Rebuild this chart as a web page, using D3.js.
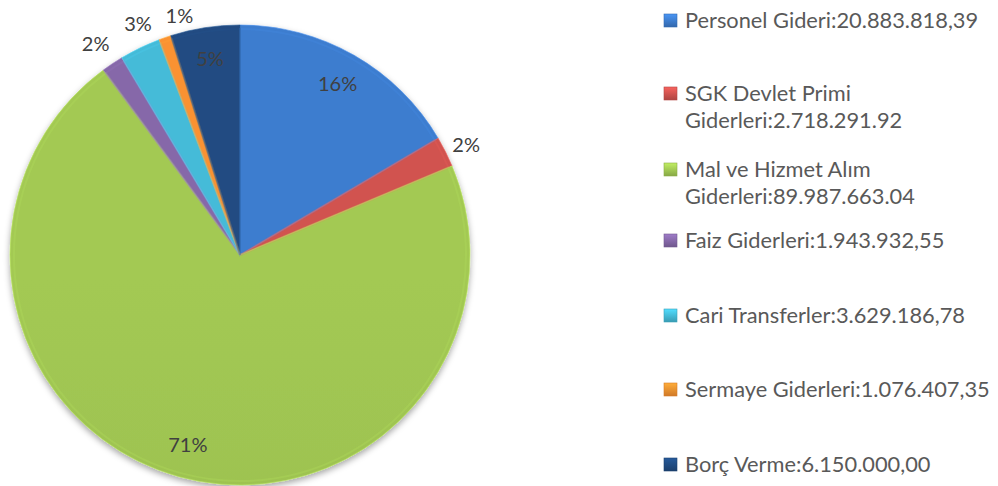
<!DOCTYPE html>
<html><head><meta charset="utf-8">
<script src="https://cdn.jsdelivr.net/npm/d3@7"></script>
<style>
html,body{margin:0;padding:0;background:#fff;}
svg{display:block;}
</style></head>
<body>
<svg id="chart" width="998" height="486"></svg>
<script>
const categories = ["Personel Gideri","SGK Devlet Primi Giderleri","Mal ve Hizmet Alım Giderleri","Faiz Giderleri","Cari Transferler","Sermaye Giderleri","Borç Verme"];
const values = [20883818.39, 2718291.92, 89987663.04, 1943932.55, 3629186.78, 1076407.35, 6150000.00];
const percentLabels = ["16%","2%","71%","2%","3%","1%","5%"];
const legendLines = [
  ["Personel Gideri:20.883.818,39"],
  ["SGK Devlet Primi","Giderleri:2.718.291.92"],
  ["Mal ve Hizmet Alım","Giderleri:89.987.663.04"],
  ["Faiz Giderleri:1.943.932,55"],
  ["Cari Transferler:3.629.186,78"],
  ["Sermaye Giderleri:1.076.407,35"],
  ["Borç Verme:6.150.000,00"]
];
const colors = ["#3b78c6","#c8504c","#9cc150","#8064a2","#42b3cf","#f08c2e","#1f497d"];
const outsideLabel = [false,true,false,true,true,true,false];
// layout nudges for overlapping outside labels (px)
const labelNudge = [[0,0],[0,3],[0,0],[-4,0],[8,-3],[22,0],[0,-2]];
const legendBaselines = [28,101,177,248,323,397,472];

const svg = d3.select("#chart");
const cx = 240, cy = 255, R = 230;
const defs = svg.append("defs");
const f = defs.append("filter").attr("id","shadow").attr("x","-10%").attr("y","-10%").attr("width","120%").attr("height","125%");
f.append("feDropShadow").attr("dx",0).attr("dy",3).attr("stdDeviation",3).attr("flood-color","#000").attr("flood-opacity",0.35);

colors.forEach((c,i)=>{
  const g = defs.append("linearGradient").attr("id","g"+i)
    .attr("gradientUnits","userSpaceOnUse").attr("x1",0).attr("y1",cy-R).attr("x2",0).attr("y2",cy+R);
  g.append("stop").attr("offset",0).attr("stop-color",d3.color(c).brighter(0.12));
  g.append("stop").attr("offset",0.6).attr("stop-color",c);
  g.append("stop").attr("offset",1).attr("stop-color",d3.color(c).darker(0.3));
  const m = defs.append("linearGradient").attr("id","m"+i).attr("x1",0).attr("y1",0).attr("x2",0).attr("y2",1);
  m.append("stop").attr("offset",0).attr("stop-color",d3.color(c).brighter(0.6));
  m.append("stop").attr("offset",1).attr("stop-color",d3.color(c).darker(0.4));
});

const pie = d3.pie().sort(null).value(d=>d)(values);
const arc = d3.arc().innerRadius(0).outerRadius(R);
const inArc = d3.arc().innerRadius(R*0.855).outerRadius(R*0.855);
const outArc = d3.arc().innerRadius(R*1.1).outerRadius(R*1.1);

const g = svg.append("g").attr("transform",`translate(${cx},${cy})`);
const sl = g.append("g").attr("filter","url(#shadow)");
sl.selectAll("path").data(pie).join("path")
  .attr("d",arc).attr("fill",(d,i)=>`url(#g${i})`)
  .attr("stroke",(d,i)=>d3.color(colors[i]).brighter(0.5)).attr("stroke-width",1).attr("stroke-opacity",0.6)
  .attr("stroke-linejoin","round");
g.append("g").selectAll("path").data(pie).join("path")
  .attr("d",d3.arc().innerRadius(0).outerRadius(R-4))
  .attr("fill","none").attr("stroke",(d,i)=>d3.color(colors[i]).brighter(0.4)).attr("stroke-width",2).attr("stroke-opacity",0.3);

g.selectAll("text.pct").data(pie).join("text").attr("class","pct")
  .attr("transform",(d,i)=>{
    const [x,y] = (outsideLabel[i]?outArc:inArc).centroid(d);
    return `translate(${x+labelNudge[i][0]},${y+labelNudge[i][1]})`;
  })
  .attr("text-anchor","middle").attr("dy","0.35em")
  .attr("font-family","Lato, 'Open Sans', sans-serif").attr("font-size",20)
  .attr("fill","#404040")
  .text((d,i)=>percentLabels[i]);

const lg = svg.append("g");
legendLines.forEach((lines,i)=>{
  const b = legendBaselines[i];
  lg.append("rect").attr("x",664).attr("y",b-14).attr("width",13).attr("height",13)
    .attr("fill",`url(#m${i})`).attr("stroke",d3.color(colors[i]).darker(0.3)).attr("stroke-width",0.6);
  lines.forEach((t,j)=>{
    lg.append("text").attr("x",685).attr("y",b+j*27)
      .attr("font-family","Lato, 'Open Sans', sans-serif").attr("font-size",21.8)
      .attr("fill","#595959").text(t);
  });
});
</script>
</body></html>
